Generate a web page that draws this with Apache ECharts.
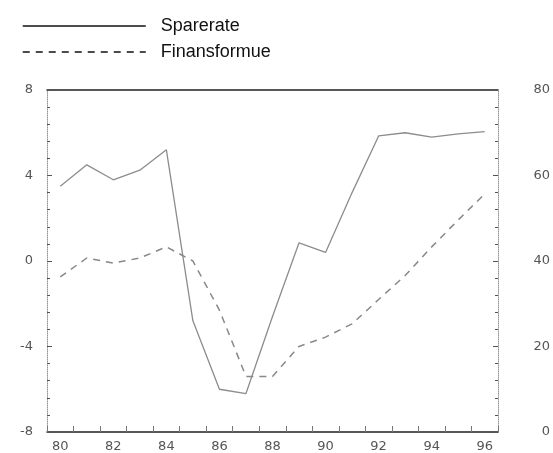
<!DOCTYPE html>
<html>
<head>
<meta charset="utf-8">
<script src="https://cdn.jsdelivr.net/npm/echarts@6/dist/echarts.min.js"></script>
<style>
  html, body { margin: 0; padding: 0; background: #fff; }
  #chart { width: 553px; height: 453px; }
</style>
</head>
<body>
<div id="chart"></div>
<script>
// years 1980-1996, labels shown every second year
const years = ['80', '81', '82', '83', '84', '85', '86', '87', '88', '89', '90', '91', '92', '93', '94', '95', '96'];
// Sparerate (left axis, -8..8)
const sparerate = [3.5, 4.5, 3.8, 4.25, 5.2, -2.8, -6.0, -6.2, -2.6, 0.85, 0.4, 3.2, 5.85, 6.0, 5.8, 5.95, 6.05];
// Finansformue (right axis, 0..80)
const finansformue = [36.3, 40.7, 39.5, 40.7, 43.3, 40.0, 28.5, 13.0, 13.0, 20.0, 22.2, 25.3, 31.0, 36.6, 43.3, 49.6, 55.7];
const leftTicks = { min: -8, max: 8, interval: 4 };
const rightTicks = { min: 0, max: 80, interval: 20 };

const chart = echarts.init(document.getElementById('chart'));
const axisFont = { color: '#555', fontFamily: 'DejaVu Sans', fontSize: 13 };

chart.setOption({
  animation: false,
  backgroundColor: '#fff',
  legend: {
    orient: 'vertical',
    left: 17,
    top: 12,
    itemWidth: 123,
    itemHeight: 14,
    itemGap: 8,
    textStyle: { color: '#111', fontFamily: 'Liberation Sans', fontSize: 18, padding: [0, 0, 0, 10] },
    data: [
      { name: 'Sparerate', itemStyle: { opacity: 0 }, lineStyle: { color: '#111', width: 1.5, type: 'solid' } },
      { name: 'Finansformue', itemStyle: { opacity: 0 }, lineStyle: { color: '#111', width: 1.5, type: [7, 6] } }
    ]
  },
  grid: { left: 47, right: 55, top: 90, bottom: 21 },
  xAxis: [
    {
      type: 'category',
      data: years,
      boundaryGap: true,
      axisLine: { onZero: false, lineStyle: { color: '#222', width: 1.5 } },
      axisTick: { show: true, inside: true, length: 6, interval: 0, lineStyle: { color: '#777' } },
      axisLabel: Object.assign({ interval: 1, margin: 8 }, axisFont),
      splitLine: { show: false }
    },
    {
      type: 'category',
      data: years,
      position: 'top',
      axisLine: { onZero: false, lineStyle: { color: '#222', width: 1.5 } },
      axisTick: { show: false },
      axisLabel: { show: false }
    }
  ],
  yAxis: [
    {
      type: 'value',
      min: leftTicks.min,
      max: leftTicks.max,
      interval: leftTicks.interval,
      axisLine: { show: true, lineStyle: { color: '#999', width: 1, type: 'dotted' } },
      axisTick: { show: true, inside: true, length: 5, lineStyle: { color: '#555' } },
      minorTick: { show: true, splitNumber: 5, length: 3, lineStyle: { color: '#555' } },
      axisLabel: Object.assign({ margin: 14 }, axisFont),
      splitLine: { show: false }
    },
    {
      type: 'value',
      position: 'right',
      min: rightTicks.min,
      max: rightTicks.max,
      interval: rightTicks.interval,
      axisLine: { show: true, lineStyle: { color: '#999', width: 1, type: 'dotted' } },
      axisTick: { show: true, inside: true, length: 5, lineStyle: { color: '#555' } },
      minorTick: { show: true, splitNumber: 5, length: 3, lineStyle: { color: '#555' } },
      axisLabel: Object.assign({ margin: 52, align: 'right' }, axisFont),
      splitLine: { show: false }
    }
  ],
  series: [
    {
      name: 'Sparerate',
      type: 'line',
      yAxisIndex: 0,
      symbol: 'none',
      data: sparerate,
      lineStyle: { color: '#8c8c8c', width: 1.3, type: 'solid' },
      itemStyle: { color: '#8c8c8c' }
    },
    {
      name: 'Finansformue',
      type: 'line',
      yAxisIndex: 1,
      symbol: 'none',
      data: finansformue,
      lineStyle: { color: '#888', width: 1.5, type: [7, 6] },
      itemStyle: { color: '#888' }
    }
  ]
});
</script>
</body>
</html>
